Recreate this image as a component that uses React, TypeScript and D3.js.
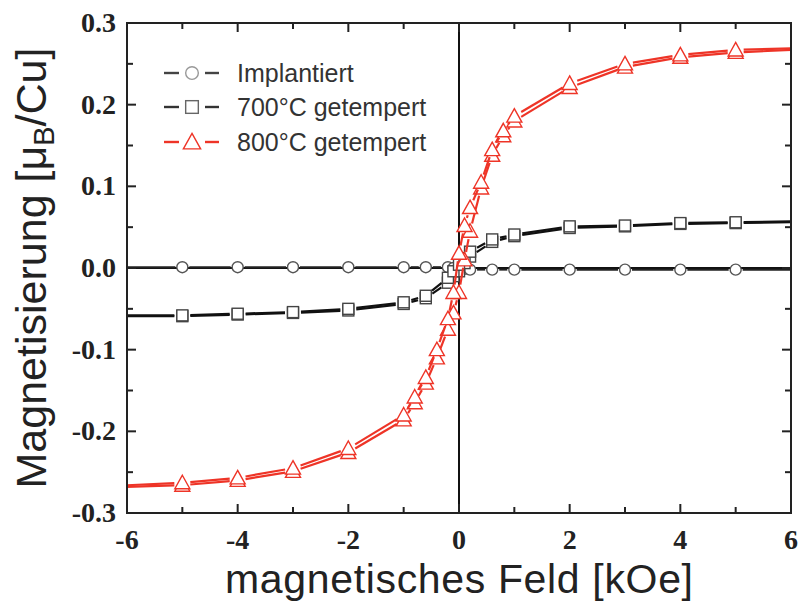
import React from "react";
import * as d3 from "d3";

const fieldRed = [-6, -5, -4, -3, -2, -1, -0.8, -0.6, -0.4, -0.2, -0.1, 0, 0.1, 0.2, 0.4, 0.6, 0.8, 1, 2, 3, 4, 5, 6];
const red800Lower = [-0.268, -0.266, -0.260, -0.249, -0.226, -0.186, -0.165, -0.141, -0.110, -0.075, -0.055, -0.030, 0.010, 0.045, 0.098, 0.138, 0.162, 0.180, 0.221, 0.246, 0.258, 0.264, 0.267];
const red800Upper = [-0.266, -0.263, -0.257, -0.245, -0.221, -0.180, -0.158, -0.134, -0.100, -0.062, -0.030, 0.018, 0.052, 0.074, 0.105, 0.145, 0.168, 0.186, 0.226, 0.250, 0.261, 0.267, 0.269];

const fieldSparse = [-6, -5, -4, -3, -2, -1, -0.6, -0.2, -0.1, 0, 0.1, 0.2, 0.6, 1, 2, 3, 4, 5, 6];
const sq700Lower = [-0.059, -0.059, -0.057, -0.055, -0.052, -0.044, -0.037, -0.018, -0.010, -0.004, 0.006, 0.014, 0.032, 0.039, 0.049, 0.051, 0.054, 0.055, 0.056];
const sq700Upper = [-0.058, -0.058, -0.056, -0.054, -0.050, -0.042, -0.034, -0.012, -0.004, 0.004, 0.012, 0.020, 0.035, 0.041, 0.051, 0.052, 0.055, 0.056, 0.057];
const implantiert = [0.001, 0.001, 0.001, 0.001, 0.001, 0.001, 0.001, 0.001, 0.0, 0.0, -0.001, -0.002, -0.002, -0.002, -0.002, -0.002, -0.002, -0.002, -0.002];

const xTickLabels = ["-6", "-4", "-2", "0", "2", "4", "6"];
const yTickLabels = ["-0.3", "-0.2", "-0.1", "0.0", "0.1", "0.2", "0.3"];
const legendLabels = ["Implantiert", "700°C getempert", "800°C getempert"];

const L = 127, R = 791, T = 23, B = 513;
const RED = "#ee3427";

const x = d3.scaleLinear().domain([-6, 6]).range([L, R]);
const y = d3.scaleLinear().domain([-0.3, 0.3]).range([B, T]);

type Pt = [number, number];

function gappedSegments(pts: Pt[], gap: number, key: string, color: string, width: number) {
  const out: React.ReactNode[] = [];
  for (let i = 0; i < pts.length - 1; i++) {
    const [x1, y1] = pts[i];
    const [x2, y2] = pts[i + 1];
    const dx = x2 - x1, dy = y2 - y1;
    const len = Math.hypot(dx, dy);
    const g1 = i === 0 ? 0 : gap;
    const g2 = i + 1 === pts.length - 1 ? 0 : gap;
    if (len <= g1 + g2 + 1) continue;
    const ux = dx / len, uy = dy / len;
    out.push(
      <line key={key + i} x1={x1 + ux * g1} y1={y1 + uy * g1} x2={x2 - ux * g2} y2={y2 - uy * g2}
        stroke={color} strokeWidth={width} strokeLinecap="butt" />
    );
  }
  return out;
}

function Marker({ kind, cx, cy, color, s = 1 }: { kind: string; cx: number; cy: number; color: string; s?: number }) {
  if (kind === "circle") return <circle cx={cx} cy={cy} r={5.5 * s} fill="white" stroke={color} strokeWidth={1.4} />;
  if (kind === "square") return <rect x={cx - 5.5 * s} y={cy - 5.5 * s} width={11 * s} height={11 * s} fill="white" stroke={color} strokeWidth={1.4} />;
  const w = 7.5 * s;
  return <path d={`M${cx},${cy - 7.5 * s}L${cx + w},${cy + 6 * s}L${cx - w},${cy + 6 * s}Z`} fill="white" stroke={color} strokeWidth={1.4} />;
}

function series(field: number[], vals: number[], kind: string, lineColor: string, markColor: string, width: number, gap: number, key: string) {
  const pts: Pt[] = field.map((f, i) => [x(f), y(vals[i])]);
  return (
    <g key={key}>
      {gappedSegments(pts, gap, key, lineColor, width)}
      {pts.map((p, i) => (Math.abs(field[i]) < 6 ? <Marker key={key + "m" + i} kind={kind} cx={p[0]} cy={p[1]} color={markColor} /> : null))}
    </g>
  );
}

export default function App() {
  const xMajor = d3.range(-6, 6.001, 2);
  const xMinor = d3.range(-5, 6, 2);
  const yMajor = d3.range(-0.3, 0.3001, 0.1);
  const yMinor = d3.range(-0.25, 0.3, 0.1);
  const tickFont = "'Liberation Serif', 'Times New Roman', serif";
  const sansFont = "'Liberation Sans', Arial, sans-serif";
  const legendRows = [73, 107, 142];
  const legendKinds = ["circle", "square", "triangle"];
  const legendLine = ["#444", "#333", RED];
  const legendMark = ["#999", "#666", RED];
  return (
    <svg width={801} height={604} style={{ position: "absolute", left: 0, top: 0, background: "white" }}>
      <rect x={0} y={0} width={801} height={604} fill="white" />
      {/* zero lines */}
      <line x1={L} x2={R} y1={y(0)} y2={y(0)} stroke="#111" strokeWidth={2} />
      <line x1={x(0)} x2={x(0)} y1={T} y2={B} stroke="#111" strokeWidth={2} />

      {series(fieldSparse, implantiert, "circle", "#222", "#555", 2, 7, "imp")}
      {series(fieldSparse, sq700Lower, "square", "#111", "#444", 2.2, 8, "s7l")}
      {series(fieldSparse, sq700Upper, "square", "#111", "#444", 2.2, 8, "s7u")}
      {series(fieldRed, red800Lower, "triangle", RED, RED, 2.2, 8, "r8l")}
      {series(fieldRed, red800Upper, "triangle", RED, RED, 2.2, 8, "r8u")}

      {/* frame */}
      <rect x={L} y={T} width={R - L} height={B - T} fill="none" stroke="#222" strokeWidth={2} />

      {/* ticks */}
      {xMajor.map((v) => (
        <g key={"xM" + v}>
          <line x1={x(v)} x2={x(v)} y1={B} y2={B - 9} stroke="#222" strokeWidth={2} />
          <line x1={x(v)} x2={x(v)} y1={T} y2={T + 9} stroke="#222" strokeWidth={2} />
        </g>
      ))}
      {xMinor.map((v) => (
        <g key={"xm" + v}>
          <line x1={x(v)} x2={x(v)} y1={B} y2={B - 6} stroke="#222" strokeWidth={2} />
          <line x1={x(v)} x2={x(v)} y1={T} y2={T + 6} stroke="#222" strokeWidth={2} />
        </g>
      ))}
      {yMajor.map((v) => (
        <g key={"yM" + v}>
          <line x1={L} x2={L + 9} y1={y(v)} y2={y(v)} stroke="#222" strokeWidth={2} />
          <line x1={R} x2={R - 9} y1={y(v)} y2={y(v)} stroke="#222" strokeWidth={2} />
        </g>
      ))}
      {yMinor.map((v) => (
        <g key={"ym" + v}>
          <line x1={L} x2={L + 6} y1={y(v)} y2={y(v)} stroke="#222" strokeWidth={2} />
          <line x1={R} x2={R - 6} y1={y(v)} y2={y(v)} stroke="#222" strokeWidth={2} />
        </g>
      ))}

      {/* tick labels */}
      {xMajor.map((v, i) => (
        <text key={"xl" + i} x={x(v)} y={549} textAnchor="middle" fontFamily={tickFont} fontWeight="bold" fontSize={28} fill="#222">
          {xTickLabels[i]}
        </text>
      ))}
      {yMajor.map((v, i) => (
        <text key={"yl" + i} x={116} y={y(v) + 9} textAnchor="end" fontFamily={tickFont} fontWeight="bold" fontSize={28} fill="#222">
          {yTickLabels[i]}
        </text>
      ))}

      {/* axis titles */}
      <text x={x(0)} y={593} textAnchor="middle" fontFamily={sansFont} fontSize={41} fill="#222"
        textLength={468} lengthAdjust="spacing">
        magnetisches Feld [kOe]
      </text>
      <text transform={`translate(46,${(T + B) / 2}) rotate(-90)`} textAnchor="middle" fontFamily={sansFont} fontSize={43} fill="#222">
        Magnetisierung [μ<tspan fontSize={29} dy={8}>B</tspan><tspan dy={-8}>/Cu]</tspan>
      </text>

      {/* legend */}
      {legendLabels.map((lab, i) => (
        <g key={"lg" + i}>
          <line x1={164} x2={179} y1={legendRows[i]} y2={legendRows[i]} stroke={legendLine[i]} strokeWidth={2.4} />
          <line x1={205} x2={219} y1={legendRows[i]} y2={legendRows[i]} stroke={legendLine[i]} strokeWidth={2.4} />
          <Marker kind={legendKinds[i]} cx={192} cy={legendRows[i]} color={legendMark[i]} s={1.15} />
          <text x={237} y={legendRows[i] + 9} fontFamily={sansFont} fontSize={25} fill="#333">
            {lab}
          </text>
        </g>
      ))}
    </svg>
  );
}
